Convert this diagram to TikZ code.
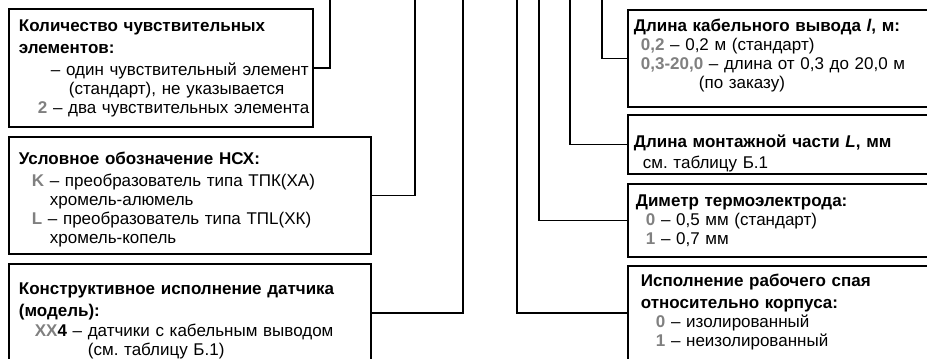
\documentclass[tikz,border=0pt]{standalone}
\usepackage{fontspec}
\setmainfont{Liberation Sans}
\definecolor{kodgray}{gray}{0.5}
\newcommand{\kod}[1]{\textcolor{kodgray}{\bfseries #1}}
\tikzset{
  box/.style={draw, line width=1.8pt, align=left, anchor=north west,
    inner ysep=0pt, font=\fontsize{17}{19}\selectfont},
  lbox/.style={box, inner xsep=10pt},
  rbox/.style={box, inner xsep=6pt, text width=330pt},
  wire/.style={line width=1.7pt}
}
\begin{document}
\begin{tikzpicture}[x=1pt,y=-1pt]
\useasboundingbox (0,0) rectangle (927,359);
\clip (0,0) rectangle (927,359);
% left column
\node[lbox, text width=284pt, text height=23pt, text depth=95pt] (n1) at (8,8)
  {\textbf{Количество чувствительных}\\[3pt]
   \textbf{элементов:}\\[3pt]
   \hspace*{32pt}\mbox{– один чувствительный элемент}\\
   \hspace*{50pt}(стандарт), не указывается\\
   \hspace*{19pt}\mbox{\kod{2} – два чувствительных элемента}};
\node[lbox, text width=342pt, text height=28pt, text depth=89pt] (n2) at (8,136)
  {\textbf{Условное обозначение НСХ:}\\[3pt]
   \hspace*{13pt}\kod{K} – преобразователь типа ТПК(ХА)\\
   \hspace*{31pt}хромель-алюмель\\
   \hspace*{13pt}\kod{L} – преобразователь типа ТПL(ХК)\\
   \hspace*{31pt}хромель-копель};
\node[lbox, text width=342pt, text height=31pt, text depth=100pt] (n3) at (8,263)
  {\textbf{Конструктивное исполнение датчика}\\[3pt]
   \textbf{(модель):}\\[1pt]
   \hspace*{16pt}\kod{XX}\textbf{4} – датчики с кабельным выводом\\
   \hspace*{69pt}(см.\ таблицу Б.1)};
% right column
\node[rbox, text height=22pt, text depth=75pt] (nA) at (627,9)
  {\textbf{Длина кабельного вывода \textit{l}, м:}\\
   \hspace*{7pt}\kod{0,2} – 0,2 м (стандарт)\\
   \hspace*{7pt}\kod{0,3-20,0} – длина от 0,3 до 20,0 м\\
   \hspace*{65pt}(по заказу)};
\node[rbox, text height=33pt, text depth=26pt] (nB) at (627,114)
  {\textbf{Длина монтажной части \textit{L}, мм}\\[2pt]
   \hspace*{9pt}см.\ таблицу Б.1};
\node[rbox, text height=23pt, text depth=50pt] (nC) at (627,183)
  {\hspace*{2pt}\textbf{Диметр термоэлектрода:}\\
   \hspace*{12pt}\kod{0} – 0,5 мм (стандарт)\\
   \hspace*{12pt}\kod{1} – 0,7 мм};
\node[rbox, text height=21pt, text depth=100pt] (nD) at (627,265)
  {\hspace*{7pt}\textbf{Исполнение рабочего спая}\\[3pt]
   \hspace*{7pt}\textbf{относительно корпуса:}\\
   \hspace*{22pt}\kod{0} – изолированный\\
   \hspace*{22pt}\kod{1} – неизолированный};
% leads going up
\coordinate (t1) at (330,-5);
\coordinate (t2) at (415,-5);
\coordinate (t3) at (463,-5);
\coordinate (tD) at (517,-5);
\coordinate (tC) at (539,-5);
\coordinate (tB) at (570,-5);
\coordinate (tA) at (602,-5);
\draw[wire] (n1.east) -| (t1);
\draw[wire] (n2.east) -| (t2);
\draw[wire] ([yshift=-50pt]n3.north east) -| (t3);
\draw[wire] ([yshift=-48pt]nD.north west) -| (tD);
\draw[wire] (nC.west) -| (tC);
\draw[wire] (nB.west) -| (tB);
\draw[wire] (nA.west) -| (tA);
\end{tikzpicture}
\end{document}
